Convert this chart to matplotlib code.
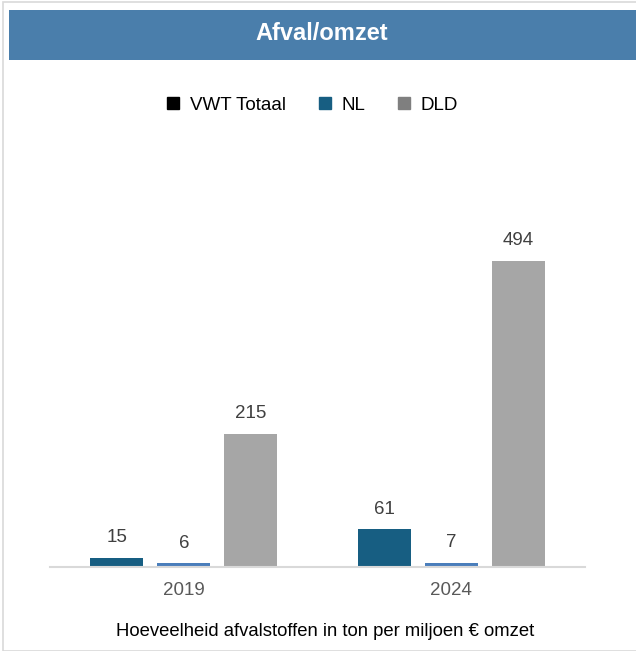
import matplotlib.pyplot as plt
from matplotlib.patches import Rectangle
from matplotlib.lines import Line2D
import numpy as np

plt.rcParams['font.family'] = ['Liberation Sans', 'DejaVu Sans']

# data
years = ['2019', '2024']
series = ['VWT Totaal', 'NL', 'DLD']
vwt_totaal = [15, 61]
nl = [6, 7]
dld = [215, 494]

bar_colors = ['#175e82', '#4a7ebb', '#a6a6a6']
legend_colors = ['#000000', '#175e82', '#7f7f7f']

W, H = 636, 651
fig = plt.figure(figsize=(W / 100, H / 100), dpi=100)

# outer frame
fig.patches.append(Rectangle((3 / W, 0), 1, 1 - 2 / H, transform=fig.transFigure,
                             fill=False, edgecolor='#d9d9d9', linewidth=1.2))
# title banner
fig.patches.append(Rectangle((9 / W, 1 - 60 / H), 1, 50 / H, transform=fig.transFigure,
                             facecolor='#4a7eab', edgecolor='none'))
fig.text(322 / W, 1 - 34 / H, 'Afval/omzet', color='white', fontsize=17,
         fontweight='bold', ha='center', va='center')

# axes: baseline at y=567 px, x from 50 to 585
ax_top = 140
ax = fig.add_axes([50 / W, 1 - 567 / H, 535 / W, (567 - ax_top) / H])
ymax = 494 * (567 - ax_top) / (567 - 261)
ax.set_xlim(-0.5, 1.5)
ax.set_ylim(0, ymax)

x = np.arange(len(years))
width = 0.198
step = 0.25
data = [vwt_totaal, nl, dld]
for i, vals in enumerate(data):
    pos = x + (i - 1) * step
    bars = ax.bar(pos, vals, width, color=bar_colors[i], label=series[i])
    for b, v in zip(bars, vals):
        ax.annotate(str(v), (b.get_x() + b.get_width() / 2, b.get_height()),
                    xytext=(0, 14.5), textcoords='offset points', ha='center',
                    va='center', fontsize=13.5, color='#404040')

for s in ['top', 'right', 'left']:
    ax.spines[s].set_visible(False)
ax.spines['bottom'].set_color('#d9d9d9')
ax.spines['bottom'].set_linewidth(1.5)
ax.set_yticks([])
ax.set_xticks(x)
ax.set_xticklabels(years, fontsize=13.5, color='#595959')
ax.tick_params(axis='x', length=0, pad=11)

handles = [Line2D([], [], marker='s', linestyle='none', markersize=8,
                  markerfacecolor=c, markeredgecolor=c) for c in legend_colors]
fig.legend(handles, series, loc='center', bbox_to_anchor=(311 / W, 1 - 105 / H),
           ncol=3, frameon=False, fontsize=13.5, handletextpad=0.4,
           columnspacing=1.55, handlelength=1.0)

fig.text(325 / W, 1 - 631 / H, 'Hoeveelheid afvalstoffen in ton per miljoen € omzet',
         fontsize=13.3, ha='center', va='center', color='#000000')

fig.savefig('out.png', dpi=100)
